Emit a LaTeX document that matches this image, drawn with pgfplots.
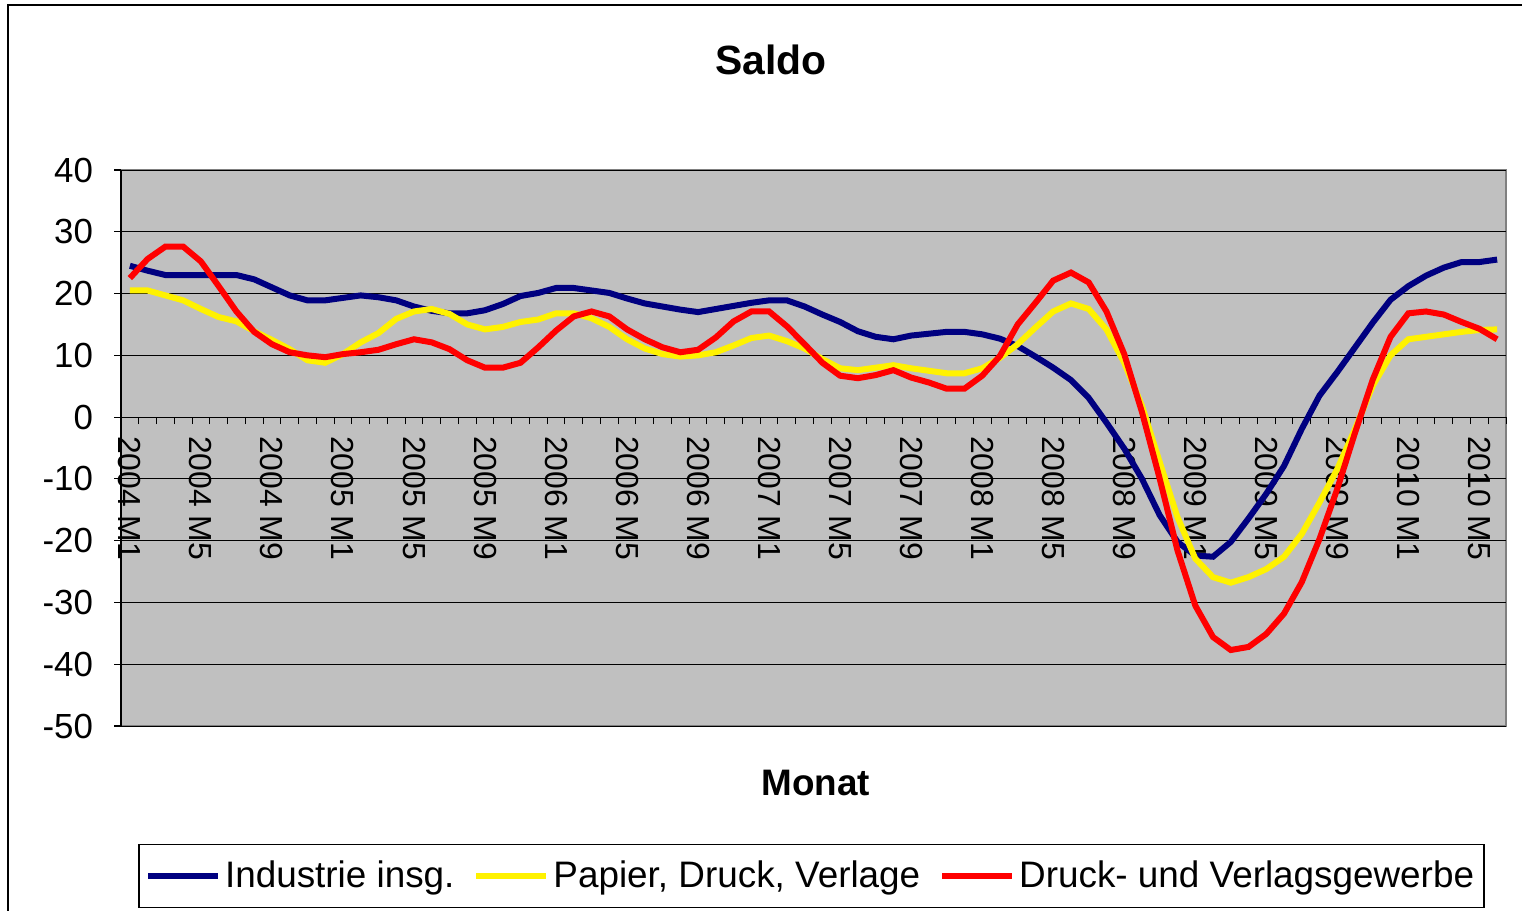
\documentclass[border=0pt]{standalone}
\usepackage{pgfplots}
\pgfplotsset{compat=1.18}
\usepackage{pgfplotstable}
\usepackage{fontspec}
\setmainfont{Liberation Sans}
\definecolor{navyline}{RGB}{0,0,128}
\definecolor{silverbg}{RGB}{192,192,192}

% month index (0 = 2004 M1), Industrie insg., Papier/Druck/Verlage, Druck- und Verlagsgewerbe
\pgfplotstableread{
x ind pap dru
0 24.5 20.5 22.5
1 23.7 20.5 25.6
2 23.0 19.7 27.6
3 23.0 18.9 27.6
4 23.0 17.5 25.2
5 23.0 16.2 21.2
6 23.0 15.5 17.1
7 22.3 13.9 13.8
8 21.0 12.5 11.8
9 19.7 11.0 10.5
10 18.9 9.2 10.0
11 18.9 8.8 9.7
12 19.3 10.2 10.2
13 19.7 12.1 10.5
14 19.4 13.6 10.9
15 18.9 15.9 11.8
16 17.9 17.1 12.6
17 17.2 17.5 12.1
18 16.8 16.7 11.0
19 16.8 15.0 9.2
20 17.3 14.2 8.0
21 18.3 14.6 8.0
22 19.6 15.4 8.8
23 20.1 15.8 11.3
24 20.9 16.8 14.0
25 20.9 16.8 16.3
26 20.5 16.0 17.1
27 20.1 14.6 16.3
28 19.2 12.6 14.2
29 18.4 11.1 12.6
30 17.9 10.2 11.3
31 17.4 9.8 10.5
32 17.0 10.0 10.9
33 17.5 10.5 12.9
34 18.0 11.6 15.5
35 18.5 12.8 17.1
36 18.9 13.2 17.1
37 18.9 12.3 14.7
38 17.9 11.1 11.8
39 16.6 9.4 8.8
40 15.4 7.9 6.7
41 13.9 7.6 6.3
42 13.0 8.0 6.8
43 12.6 8.4 7.6
44 13.2 7.9 6.4
45 13.5 7.5 5.6
46 13.8 7.1 4.6
47 13.8 7.1 4.6
48 13.4 7.9 6.7
49 12.7 9.6 9.9
50 11.5 11.8 15.0
51 9.8 14.5 18.5
52 8.0 17.1 22.1
53 6.0 18.4 23.4
54 3.1 17.5 21.8
55 -0.9 14.2 17.1
56 -5.1 8.8 10.2
57 -10.0 1.8 0.8
58 -15.9 -7.3 -10.0
59 -20.2 -16.2 -21.6
60 -22.4 -22.9 -30.5
61 -22.6 -25.9 -35.6
62 -20.2 -26.8 -37.7
63 -16.4 -25.9 -37.2
64 -12.4 -24.6 -35.1
65 -7.9 -22.6 -31.8
66 -1.9 -18.9 -26.7
67 3.5 -13.8 -19.7
68 7.3 -8.4 -11.6
69 11.3 -1.9 -2.5
70 15.3 5.1 6.1
71 19.0 10.0 13.0
72 21.2 12.6 16.8
73 22.9 13.0 17.1
74 24.2 13.4 16.6
75 25.1 13.8 15.4
76 25.1 14.1 14.3
77 25.5 14.2 12.6
}\saldo

\begin{document}
\begin{tikzpicture}
\path[use as bounding box] (-60.5bp,-92.5bp) rectangle (700.5bp,363bp);
\draw[black, line width=0.6bp] (-56.5bp,-93bp) -- (-56.5bp,360.5bp) -- (701bp,360.5bp);
\begin{axis}[
  at={(0,0)}, anchor=south west,
  width=692.5bp, height=278bp, scale only axis,
  xmin=-0.5, xmax=77.5, ymin=-50, ymax=40,
  axis x line=middle, axis y line=left,
  axis line style={-, black, line width=0.6bp},
  axis background/.style={fill=silverbg, draw=gray, line width=1.2bp},
  ytick={-50,-40,...,40},
  ymajorgrids, grid style={black, line width=0.5bp},
  tick align=outside,
  major tick length=3.5bp,
  xtick={-0.5,0.5,...,77.5},
  xticklabels={},
  x tick style={black, line width=0.5bp},
  y tick style={black, line width=0.6bp},
  extra x ticks={0,4,...,76},
  extra x tick labels={2004 M1,2004 M5,2004 M9,2005 M1,2005 M5,2005 M9,2006 M1,2006 M5,2006 M9,2007 M1,2007 M5,2007 M9,2008 M1,2008 M5,2008 M9,2009 M1,2009 M5,2009 M9,2010 M1,2010 M5},
  extra x tick style={major tick length=0pt,
    xticklabel style={font=\fontsize{16}{19}\selectfont, yshift=-6bp, rotate=-90, anchor=west}},
  /pgf/number format/assume math mode=true,
  yticklabel style={font=\fontsize{17.5}{20}\selectfont, xshift=-7bp},
  legend style={at={(0.4986,-0.2698)}, anchor=center, draw=black, line width=0.6bp,
    fill=white, font=\fontsize{18.5}{22}\selectfont, legend columns=3,
    inner ysep=6.5bp, inner xsep=3bp,
    /tikz/every even column/.append style={column sep=7.5bp}},
  legend image code/.code={\draw[#1] (0bp,0bp) -- (35bp,0bp);},
  every axis plot/.append style={line width=3bp},
]
\addplot[navyline] table[x=x, y=ind] {\saldo};
\addplot[yellow] table[x=x, y=pap] {\saldo};
\addplot[red] table[x=x, y=dru] {\saldo};
\legend{Industrie insg.,{Papier, Druck, Verlage},Druck- und Verlagsgewerbe}
\end{axis}
\node at (325bp,333bp) {\fontsize{20.5}{24}\selectfont\bfseries Saldo};
\node at (347.5bp,-28.5bp) {\fontsize{18.5}{22}\selectfont\bfseries Monat};
\end{tikzpicture}
\end{document}
